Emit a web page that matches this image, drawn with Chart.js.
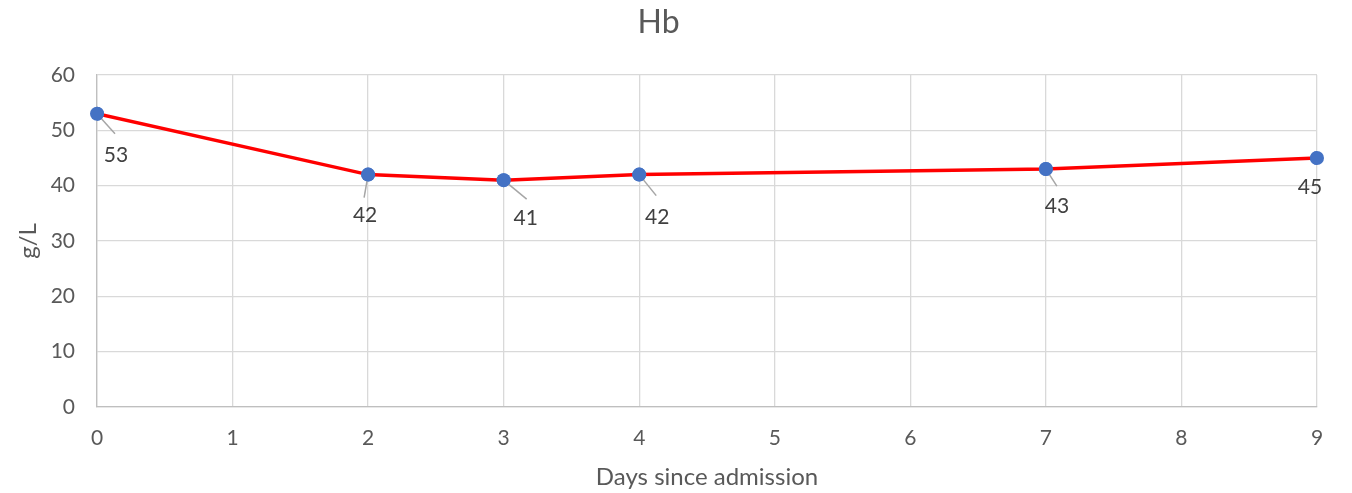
<!DOCTYPE html>
<html>
<head>
<meta charset="utf-8">
<script src="https://cdn.jsdelivr.net/npm/chart.js@4/dist/chart.umd.min.js"></script>
<style>
html,body{margin:0;padding:0;background:#fff;}
#wrap{width:1352px;height:493px;position:relative;}
</style>
</head>
<body>
<div id="wrap"><canvas id="c" width="1352" height="493"></canvas></div>
<script>
const days = [0, 2, 3, 4, 7, 9];
const hb = [53, 42, 41, 42, 43, 45];
const xTicks = [0, 1, 2, 3, 4, 5, 6, 7, 8, 9];
const yTicks = [0, 10, 20, 30, 40, 50, 60];
const chartTitle = 'Hb';
const xTitle = 'Days since admission';
const yTitle = 'g/L';

const FONT = "Lato, 'Open Sans', sans-serif";

// label placement (offset of label centre and leader-line end from the point, px)
const labelPlacement = [
  {dx: 19, dy: 42, lx: 18, ly: 20},
  {dx: -3, dy: 41, lx: -4, ly: 23},
  {dx: 22, dy: 38, lx: 23, ly: 19},
  {dx: 18, dy: 43, lx: 17, ly: 21},
  {dx: 11, dy: 37, lx: 11, ly: 17},
  {dx: -7, dy: 29, lx: null, ly: null}
];

const labelPlugin = {
  id: 'pointLabels',
  afterDatasetsDraw(chart) {
    const ctx = chart.ctx;
    const meta = chart.getDatasetMeta(0);
    const ds = chart.data.datasets[0];
    ctx.save();
    meta.data.forEach((pt, i) => {
      const p = labelPlacement[i];
      if (p.lx !== null) {
        ctx.beginPath();
        ctx.strokeStyle = '#a6a6a6';
        ctx.lineWidth = 1.5;
        ctx.moveTo(pt.x, pt.y);
        ctx.lineTo(pt.x + p.lx, pt.y + p.ly);
        ctx.stroke();
      }
    });
    meta.data.forEach((pt) => {
      ctx.beginPath();
      ctx.fillStyle = '#4472c4';
      ctx.arc(pt.x, pt.y, 7, 0, Math.PI * 2);
      ctx.fill();
    });
    ctx.font = "21px " + FONT;
    ctx.fillStyle = '#404040';
    ctx.textAlign = 'center';
    ctx.textBaseline = 'middle';
    meta.data.forEach((pt, i) => {
      const p = labelPlacement[i];
      ctx.fillText(String(ds.data[i].y), pt.x + p.dx, pt.y + p.dy);
    });
    ctx.restore();
  }
};

new Chart(document.getElementById('c'), {
  type: 'line',
  data: {
    datasets: [{
      data: days.map((d, i) => ({x: d, y: hb[i]})),
      borderColor: '#ff0000',
      borderWidth: 3.5,
      pointRadius: 7,
      pointBackgroundColor: '#4472c4',
      pointBorderColor: '#4472c4',
      pointBorderWidth: 0,
      tension: 0,
      fill: false
    }]
  },
  options: {
    responsive: false,
    animation: false,
    devicePixelRatio: 1,
    layout: {padding: {left: 0, right: 35, top: 0, bottom: 0}},
    plugins: {
      legend: {display: false},
      tooltip: {enabled: false},
      title: {
        display: true,
        text: chartTitle,
        color: '#595959',
        font: {family: FONT, size: 32, weight: 'normal', lineHeight: 1.2},
        padding: {top: 3, bottom: 33.6}
      }
    },
    scales: {
      x: {
        type: 'linear',
        min: 0, max: 9,
        afterBuildTicks(scale) { scale.ticks = xTicks.map(v => ({value: v})); },
        afterFit(scale) { scale.height = 86; },
        ticks: {color: '#595959', font: {family: FONT, size: 21}, padding: 19, maxRotation: 0},
        grid: {color: '#d9d9d9', lineWidth: 1.3, drawTicks: false},
        border: {color: '#bfbfbf', width: 1.3},
        title: {display: true, text: xTitle, color: '#595959', font: {family: FONT, size: 24}, padding: {top: 0, bottom: 1}}
      },
      y: {
        min: 0, max: 60,
        afterBuildTicks(scale) { scale.ticks = yTicks.map(v => ({value: v})); },
        afterFit(scale) { scale.width = 97; },
        ticks: {color: '#595959', font: {family: FONT, size: 21}, padding: 22},
        grid: {color: '#d9d9d9', lineWidth: 1.3, drawTicks: false},
        border: {color: '#bfbfbf', width: 1.3},
        title: {display: true, text: yTitle, color: '#595959', font: {family: FONT, size: 24}, padding: {top: 14, bottom: 0}}
      }
    }
  },
  plugins: [labelPlugin]
});
</script>
</body>
</html>
